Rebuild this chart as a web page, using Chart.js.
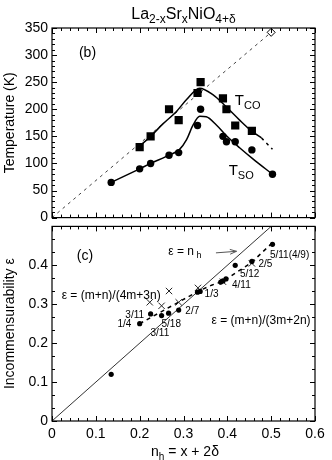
<!DOCTYPE html>
<html>
<head>
<meta charset="utf-8">
<script src="https://cdn.jsdelivr.net/npm/chart.js@4"></script>
<style>
  body { margin: 0; background: #fff; }
  #wrap { position: relative; width: 332px; height: 460px; }
  canvas { position: absolute; left: 0; }
</style>
</head>
<body>
<div id="wrap">
  <canvas id="panelB" width="332" height="230" style="top:0"></canvas>
  <canvas id="panelC" width="332" height="246" style="top:214px"></canvas>
</div>
<script>
// tick labels
const nhTicks = [0, 0.1, 0.2, 0.3, 0.4, 0.5, 0.6];
const tempTicks = [0, 50, 100, 150, 200, 250, 300, 350];
const epsTicks = [0, 0.1, 0.2, 0.3, 0.4];

// (b) charge order (squares) and spin order (circles) temperatures
const coN = [0.200, 0.225, 0.267, 0.289, 0.332, 0.339, 0.390, 0.398, 0.418, 0.456];
const coT = [130, 150, 200, 180, 230, 250, 220, 200, 170, 160];
const soN = [0.135, 0.200, 0.225, 0.267, 0.289, 0.332, 0.339, 0.390, 0.398, 0.418, 0.456, 0.503];
const soT = [65, 90, 100, 115, 120, 170, 200, 150, 140, 140, 125, 80];
const dmN = [0.333, 0.500];
const dmT = [232, 342];
// guide lines drawn in (b)
const diagN = [0, 0.5];
const diagT = [0, 342];
const coFitN = [0.200, 0.225, 0.253, 0.284, 0.307, 0.337, 0.367, 0.398, 0.428, 0.455, 0.478];
const coFitT = [132, 150, 173, 196, 218, 239, 227, 204, 180, 160, 147];
const coTailN = [0.478, 0.503];
const coTailT = [147, 126];
const soFitN = [0.135, 0.200, 0.225, 0.261, 0.291, 0.307, 0.322, 0.337, 0.352, 0.375, 0.398, 0.428, 0.459, 0.503];
const soFitT = [65, 90, 100, 113, 126, 144, 171, 187, 186, 171, 151, 129, 108, 80];

// (c) incommensurability
const epsN = [0.135, 0.200, 0.225, 0.250, 0.266, 0.289, 0.332, 0.338, 0.385, 0.390, 0.397, 0.418, 0.456, 0.503];
const epsV = [0.120, 0.250, 0.275, 0.271, 0.277, 0.285, 0.331, 0.333, 0.357, 0.360, 0.365, 0.400, 0.410, 0.454];
const crossN = [0.223, 0.250, 0.267, 0.289, 0.333, 0.390, 0.456];
const crossV = [0.305, 0.296, 0.334, 0.305, 0.342, 0.358, 0.405];
const unitN = [0, 0.5];
const unitV = [0, 0.5];
const stripeN = [0.200, 0.333, 0.364, 0.390, 0.455, 0.500];
const stripeV = [0.250, 0.333, 0.349, 0.359, 0.407, 0.455];

const FONT = '"Liberation Sans", Arial, Helvetica, sans-serif';
Chart.defaults.font.family = FONT;
Chart.defaults.color = '#000';

const pts = (xs, ys) => xs.map((x, i) => ({ x: x, y: ys[i] }));

// text with subscripts: parts = [[text, isSub], ...]
function drawRich(ctx, parts, x, y, align, size) {
  const sub = Math.round(size * 0.72);
  let w = 0;
  parts.forEach(p => {
    ctx.font = (p[1] ? sub : size) + 'px ' + FONT;
    w += ctx.measureText(p[0]).width;
  });
  let cx = align === 'center' ? x - w / 2 : (align === 'right' ? x - w : x);
  ctx.textAlign = 'left';
  ctx.textBaseline = 'alphabetic';
  parts.forEach(p => {
    ctx.font = (p[1] ? sub : size) + 'px ' + FONT;
    ctx.fillText(p[0], cx, p[1] ? y + size * 0.25 : y);
    cx += ctx.measureText(p[0]).width;
  });
}

// frame with inward major / minor ticks on all four sides
function makeFrame(cfg) {
  return {
    id: 'frame',
    afterDraw(chart) {
      const { ctx, chartArea: a, scales } = chart;
      ctx.save();
      ctx.strokeStyle = '#000';
      ctx.lineWidth = 1.2;
      ctx.strokeRect(a.left, a.top, a.right - a.left, a.bottom - a.top);
      ctx.lineWidth = 1;
      ctx.beginPath();
      const xs = scales.x, ys = scales.y;
      let n = Math.round((xs.max - xs.min) / cfg.xStep * cfg.xSub);
      for (let i = 0; i <= n; i++) {
        const v = xs.min + i * cfg.xStep / cfg.xSub;
        const px = Math.round(xs.getPixelForValue(v)) + 0.5;
        const len = i % cfg.xSub === 0 ? 5 : 3;
        ctx.moveTo(px, a.bottom); ctx.lineTo(px, a.bottom - len);
        ctx.moveTo(px, a.top); ctx.lineTo(px, a.top + len);
      }
      n = Math.round((ys.max - ys.min) / cfg.yStep * cfg.ySub);
      for (let i = 0; i <= n; i++) {
        const v = ys.min + i * cfg.yStep / cfg.ySub;
        const py = Math.round(ys.getPixelForValue(v)) + 0.5;
        const len = i % cfg.ySub === 0 ? 5 : 3;
        ctx.moveTo(a.left, py); ctx.lineTo(a.left + len, py);
        ctx.moveTo(a.right, py); ctx.lineTo(a.right - len, py);
      }
      ctx.stroke();
      ctx.restore();
    }
  };
}

// annotations, placed in data units unless px/py given
function makeNotes(items) {
  return {
    id: 'notes',
    afterDraw(chart) {
      const { ctx, scales: { x, y } } = chart;
      ctx.save();
      ctx.fillStyle = '#000';
      items.forEach(it => {
        if (it.arrow) {
          const [x1, y1, x2, y2] = it.arrow;
          const ax = x.getPixelForValue(x1), ay = y.getPixelForValue(y1);
          const bx = x.getPixelForValue(x2), by = y.getPixelForValue(y2);
          const ang = Math.atan2(by - ay, bx - ax);
          ctx.strokeStyle = '#555';
          ctx.lineWidth = 1;
          ctx.beginPath();
          ctx.moveTo(ax, ay); ctx.lineTo(bx, by);
          ctx.moveTo(bx - 7 * Math.cos(ang - 0.35), by - 7 * Math.sin(ang - 0.35));
          ctx.lineTo(bx, by);
          ctx.lineTo(bx - 7 * Math.cos(ang + 0.35), by - 7 * Math.sin(ang + 0.35));
          ctx.stroke();
          return;
        }
        const px = it.px !== undefined ? it.px : x.getPixelForValue(it.x);
        const py = it.py !== undefined ? it.py : y.getPixelForValue(it.y);
        drawRich(ctx, it.t, px, py + it.size * 0.36, it.align || 'center', it.size);
      });
      ctx.restore();
    }
  };
}

const fmt1 = v => (v === 0 ? '0' : v.toFixed(1));

// ---- panel (b) ----
new Chart(document.getElementById('panelB'), {
  type: 'scatter',
  data: {
    datasets: [
      { data: pts(coN, coT), pointStyle: 'rect', pointRadius: 5.8, backgroundColor: '#000', borderColor: '#000', borderWidth: 0, order: 0 },
      { data: pts(soN, soT), pointStyle: 'circle', pointRadius: 3.7, backgroundColor: '#000', borderColor: '#000', borderWidth: 0, order: 0 },
      { data: pts(dmN, dmT), pointStyle: 'rectRot', pointRadius: 4, backgroundColor: '#fff', borderColor: '#000', borderWidth: 1, order: 1 },
      { data: pts(diagN, diagT), showLine: true, pointRadius: 0, borderColor: '#444', borderWidth: 1, borderDash: [3, 4], order: 3 },
      { data: pts(coFitN, coFitT), showLine: true, pointRadius: 0, borderColor: '#000', borderWidth: 1.5, cubicInterpolationMode: 'monotone', order: 2 },
      { data: pts(coTailN, coTailT), showLine: true, pointRadius: 0, borderColor: '#000', borderWidth: 1.5, borderDash: [3, 4], order: 2 },
      { data: pts(soFitN, soFitT), showLine: true, pointRadius: 0, borderColor: '#000', borderWidth: 1.5, cubicInterpolationMode: 'monotone', order: 2 }
    ]
  },
  options: {
    responsive: false,
    animation: false,
    events: [],
    layout: { padding: { top: 28, right: 17, bottom: 6, left: 0 } },
    plugins: { legend: { display: false }, tooltip: { enabled: false } },
    scales: {
      x: { type: 'linear', min: 0, max: 0.6, display: false },
      y: {
        type: 'linear', min: 0, max: 350,
        grid: { display: false, drawTicks: false },
        border: { display: false },
        afterBuildTicks: s => { s.ticks = tempTicks.map(v => ({ value: v })); },
        afterFit: s => { s.width = 52; },
        ticks: { padding: 4, font: { size: 14 }, color: '#000', callback: v => String(v) },
        title: { display: true, text: 'Temperature (K)', font: { size: 14 }, color: '#000', padding: { top: 2, bottom: 0 } }
      }
    }
  },
  plugins: [
    makeFrame({ xStep: 0.1, xSub: 5, yStep: 50, ySub: 5 }),
    makeNotes([
      { t: [['La', 0], ['2-x', 1], ['Sr', 0], ['x', 1], ['NiO', 0], ['4+\u03b4', 1]], px: 183.5, py: 13, size: 16 },
      { t: [['(b)', 0]], x: 0.081, y: 306, size: 14 },
      { t: [['T', 0], ['CO', 1]], x: 0.417, y: 217, size: 15, align: 'left' },
      { t: [['T', 0], ['SO', 1]], x: 0.403, y: 89, size: 15, align: 'left' }
    ])
  ]
});

// ---- panel (c) ----
new Chart(document.getElementById('panelC'), {
  type: 'scatter',
  data: {
    datasets: [
      { data: pts(epsN, epsV), pointStyle: 'circle', pointRadius: 2.6, backgroundColor: '#000', borderColor: '#000', borderWidth: 0, order: 0 },
      { data: pts(crossN, crossV), pointStyle: 'crossRot', pointRadius: 4.5, borderColor: '#222', borderWidth: 1, order: 1 },
      { data: pts(unitN, unitV), showLine: true, pointRadius: 0, borderColor: '#333', borderWidth: 1, order: 3 },
      { data: pts(stripeN, stripeV), showLine: true, pointRadius: 0, borderColor: '#000', borderWidth: 1.5, borderDash: [4, 4], order: 2 }
    ]
  },
  options: {
    responsive: false,
    animation: false,
    events: [],
    layout: { padding: { top: 10, right: 17, bottom: 0, left: 0 } },
    plugins: { legend: { display: false }, tooltip: { enabled: false } },
    scales: {
      x: {
        type: 'linear', min: 0, max: 0.6,
        grid: { display: false, drawTicks: false },
        border: { display: false },
        afterBuildTicks: s => { s.ticks = nhTicks.map(v => ({ value: v })); },
        afterFit: s => { s.height = 39; },
        ticks: { padding: 5, font: { size: 14 }, color: '#000', maxRotation: 0, callback: fmt1 }
      },
      y: {
        type: 'linear', min: 0, max: 0.5,
        grid: { display: false, drawTicks: false },
        border: { display: false },
        afterBuildTicks: s => { s.ticks = epsTicks.map(v => ({ value: v })); },
        afterFit: s => { s.width = 52; },
        ticks: { padding: 4, font: { size: 14 }, color: '#000', callback: fmt1 },
        title: { display: true, text: 'Incommensurability \u03b5', font: { size: 14 }, color: '#000', padding: { top: 2, bottom: 0 } }
      }
    }
  },
  plugins: [
    makeFrame({ xStep: 0.1, xSub: 5, yStep: 0.1, ySub: 3 }),
    makeNotes([
      { t: [['(c)', 0]], x: 0.075, y: 0.426, size: 14 },
      { t: [['\u03b5 = n', 0], [' h', 1]], x: 0.303, y: 0.438, size: 12 },
      { arrow: [0.374, 0.432, 0.421, 0.436] },
      { t: [['\u03b5 = (m+n)/(4m+3n)', 0]], x: 0.135, y: 0.324, size: 12 },
      { t: [['\u03b5 = (m+n)/(3m+2n)', 0]], x: 0.477, y: 0.261, size: 12 },
      { t: [['3/11', 0]], x: 0.210, y: 0.274, size: 10, align: 'right' },
      { t: [['1/4', 0]], x: 0.181, y: 0.250, size: 10, align: 'right' },
      { t: [['3/11', 0]], x: 0.246, y: 0.228, size: 10 },
      { t: [['5/18', 0]], x: 0.272, y: 0.250, size: 10 },
      { t: [['2/7', 0]], x: 0.320, y: 0.283, size: 10 },
      { t: [['1/3', 0]], x: 0.364, y: 0.328, size: 10 },
      { t: [['4/11', 0]], x: 0.432, y: 0.351, size: 10 },
      { t: [['5/12', 0]], x: 0.451, y: 0.379, size: 10 },
      { t: [['2/5', 0]], x: 0.487, y: 0.404, size: 10 },
      { t: [['5/11(4/9)', 0]], x: 0.542, y: 0.429, size: 10 },
      { t: [['n', 0], ['h', 1], [' = x + 2\u03b4', 0]], px: 185, py: 237, size: 14 }
    ])
  ]
});
</script>
</body>
</html>
